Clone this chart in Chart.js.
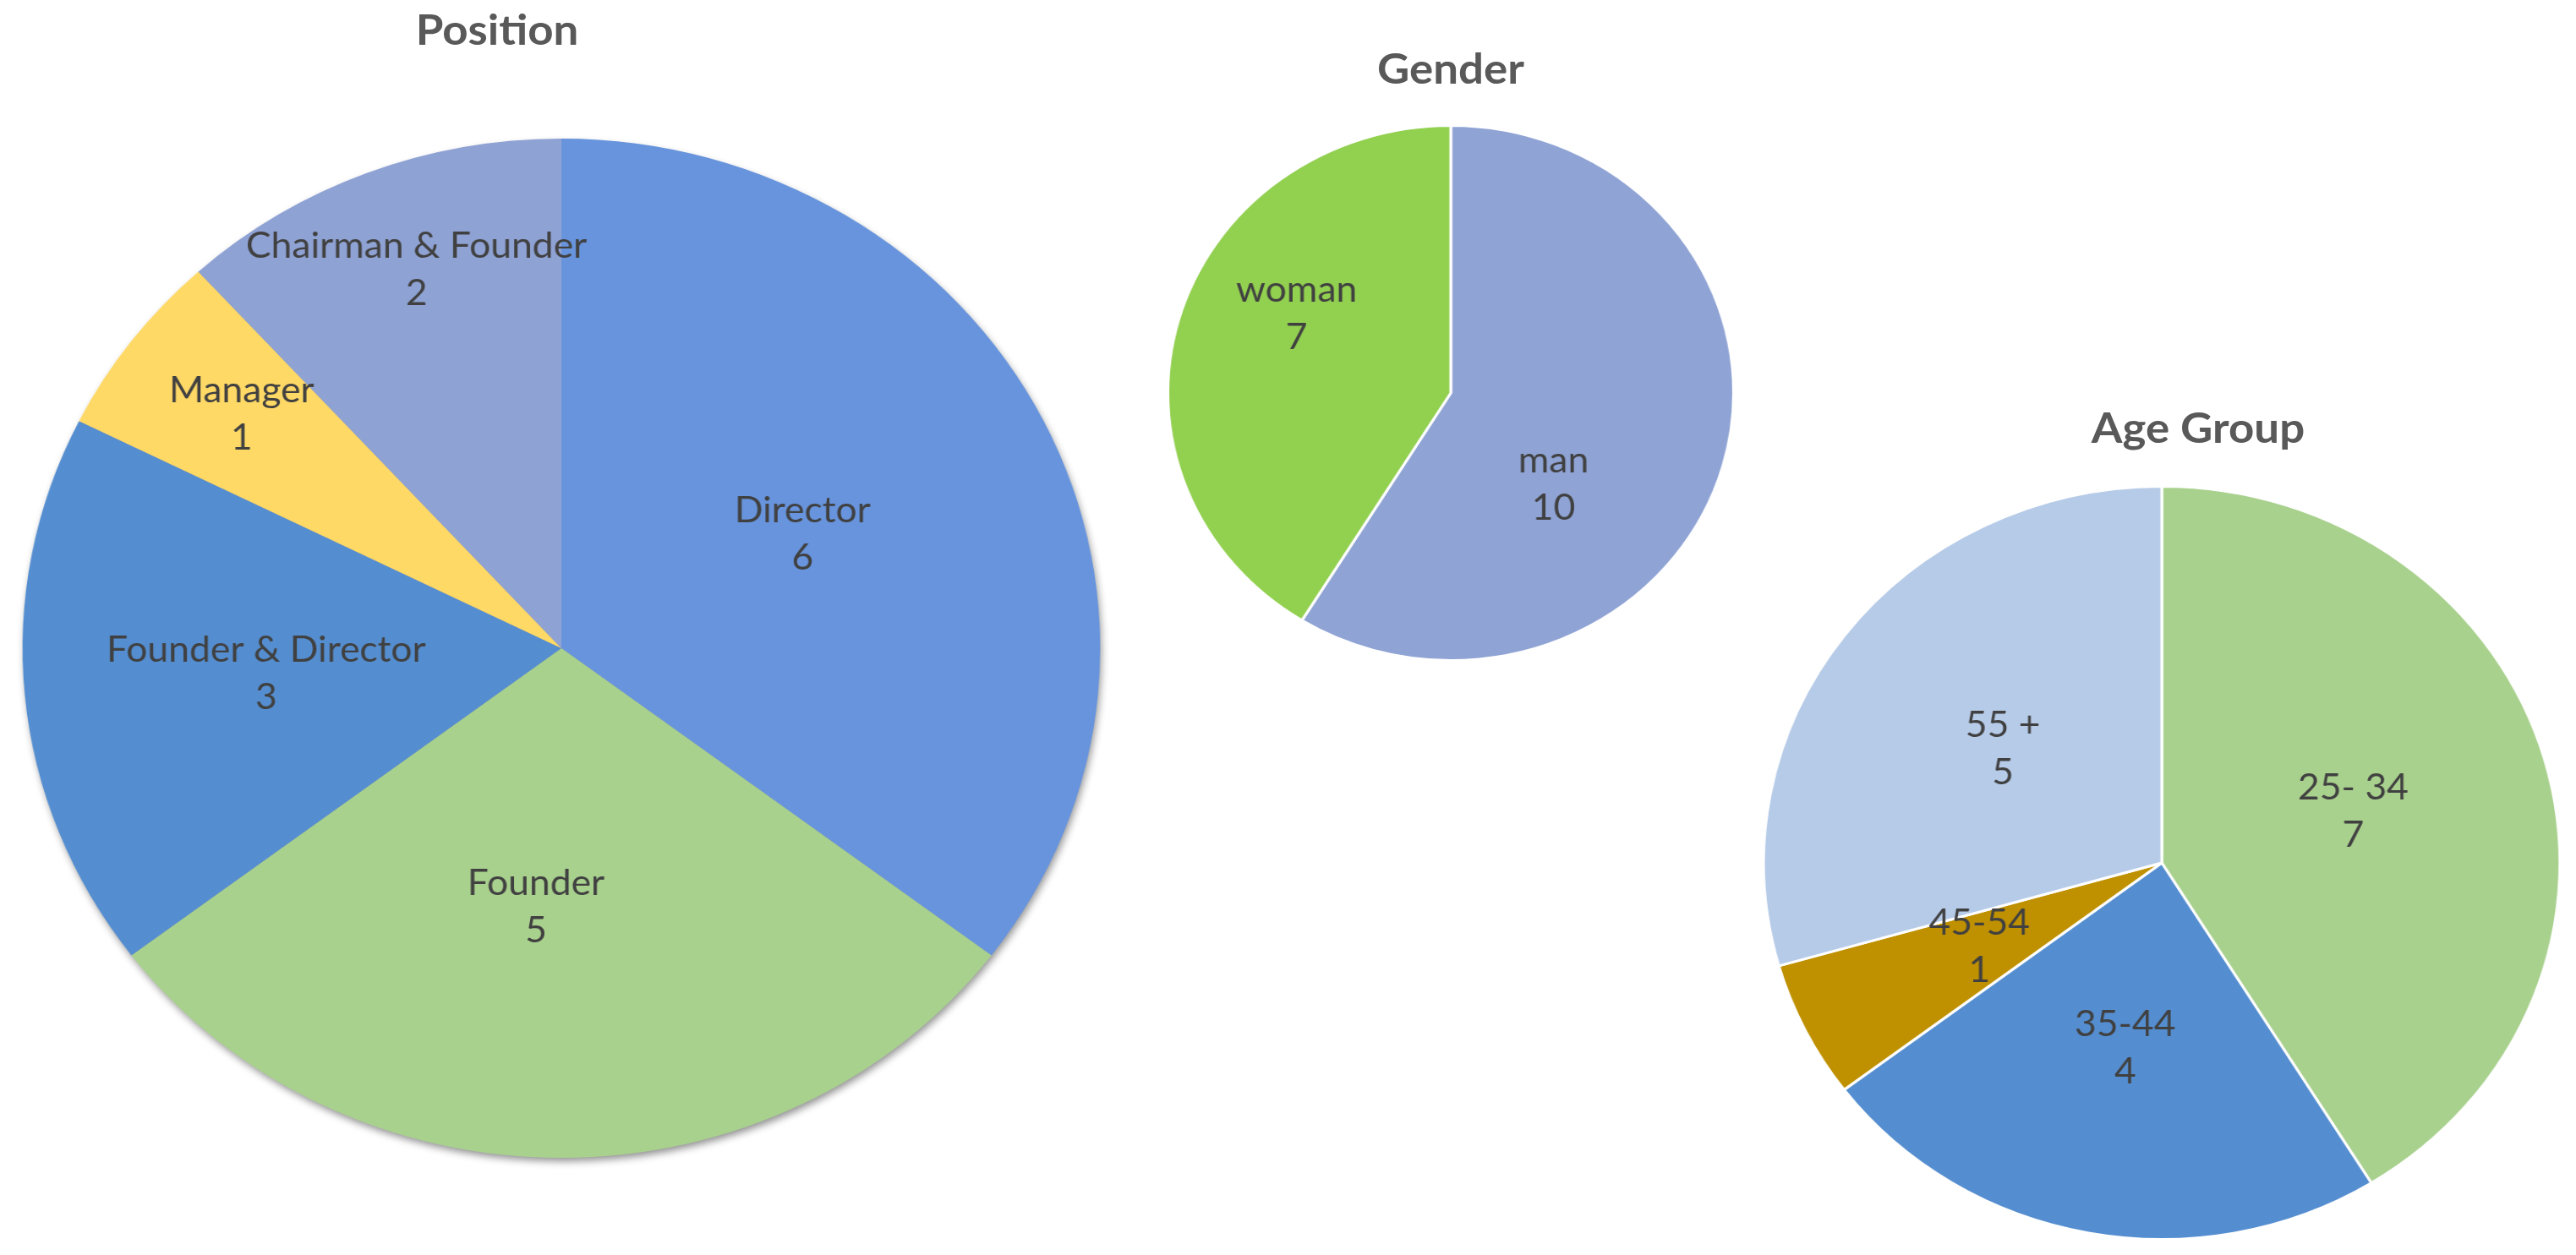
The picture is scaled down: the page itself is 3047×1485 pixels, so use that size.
<!DOCTYPE html>
<html>
<head>
<meta charset="utf-8">
<script src="https://cdn.jsdelivr.net/npm/chart.js@4.4.1/dist/chart.umd.min.js"></script>
<style>
  html, body { margin: 0; padding: 0; background: #fff; }
  body { width: 3047px; height: 1485px; position: relative; overflow: hidden; }
  .box { position: absolute; transform: scaleX(1.057); transform-origin: center; }
  .title {
    position: absolute; width: 600px; text-align: center;
    font-family: Lato, "Open Sans", sans-serif; font-weight: bold; font-size: 50px;
    line-height: 50px; color: #595959; transform: scaleX(1.057);
  }
</style>
</head>
<body>
<div class="title" style="left:288px; top:9px;">Position</div>
<div class="title" style="left:1416px; top:55px;">Gender</div>
<div class="title" style="left:2300px; top:480px;">Age Group</div>

<div class="box" style="left:41px; top:144px; width:1246px; height:1246px;"><canvas id="positionChart"></canvas></div>
<div class="box" style="left:1388px; top:137px; width:656px; height:656px;"><canvas id="genderChart"></canvas></div>
<div class="box" style="left:2100px; top:564px; width:914px; height:914px;"><canvas id="ageChart"></canvas></div>

<script>
// values
const positionLabels = ['Director', 'Founder', 'Founder & Director', 'Manager', 'Chairman & Founder'];
const positionValues = [6, 5, 3, 1, 2];

const genderLabels = ['man', 'woman'];
const genderValues = [10, 7];

const ageLabels = ['25- 34', '35-44', '45-54', '55 +'];
const ageValues = [7, 4, 1, 5];

// colours
const positionColors = ['#6794DC', '#A9D18E', '#558ED0', '#FFD966', '#8FA2D4'];
const genderColors = ['#8FA3D4', '#92D050'];
const ageColors = ['#A9D18E', '#558ED0', '#BF9000', '#B6CBE8'];

// draws "name / value" inside each slice
const sliceLabels = {
    id: 'sliceLabels',
    afterDatasetsDraw(chart, args, opts) {
        const ctx = chart.ctx;
        const meta = chart.getDatasetMeta(0);
        const values = chart.data.datasets[0].data;
        ctx.save();
        ctx.font = '42px Lato, "Open Sans", sans-serif';
        ctx.fillStyle = '#404040';
        ctx.textAlign = 'center';
        ctx.textBaseline = 'middle';
        meta.data.forEach((arc, i) => {
            const p = arc.getProps(['x', 'y', 'startAngle', 'endAngle', 'outerRadius'], true);
            const spot = (opts.spots && opts.spots[i]) || [0.5, 0.5];
            const a = p.startAngle + spot[0] * (p.endAngle - p.startAngle);
            const r = p.outerRadius * spot[1];
            const x = p.x + Math.cos(a) * r;
            const y = p.y + Math.sin(a) * r;
            ctx.fillText(chart.data.labels[i], x, y - 28);
            ctx.fillText(String(values[i]), x, y + 28);
        });
        ctx.restore();
    }
};

// soft drop shadow under the whole pie (only used on the big one)
const pieShadow = {
    id: 'pieShadow',
    beforeDatasetsDraw(chart, args, opts) {
        if (!opts.color) return;
        const arc = chart.getDatasetMeta(0).data[0];
        if (!arc) return;
        const ctx = chart.ctx;
        ctx.save();
        ctx.shadowColor = opts.color;
        ctx.shadowBlur = 10;
        ctx.shadowOffsetX = 2;
        ctx.shadowOffsetY = 5;
        ctx.fillStyle = '#9a9a9a';
        ctx.beginPath();
        ctx.arc(arc.x, arc.y, arc.outerRadius - 1, 0, Math.PI * 2);
        ctx.fill();
        ctx.restore();
    }
};

function makePie(id, labels, values, colors, border, pad, spots, shadow) {
    const ctx = document.getElementById(id).getContext('2d');
    return new Chart(ctx, {
        type: 'pie',
        data: {
            labels: labels,
            datasets: [{
                data: values,
                backgroundColor: colors,
                borderColor: '#ffffff',
                borderWidth: border
            }]
        },
        options: {
            responsive: true,
            maintainAspectRatio: false,
            animation: false,
            devicePixelRatio: 1,
            layout: { padding: pad },
            plugins: {
                legend: { display: false },
                tooltip: { enabled: false },
                sliceLabels: { spots: spots },
                pieShadow: { color: shadow }
            }
        },
        plugins: [pieShadow, sliceLabels]
    });
}

makePie('positionChart', positionLabels, positionValues, positionColors, 0, 20,
    [[0.5, 0.5], [0.55, 0.51], [0.5, 0.55], [0.53, 0.75], [0.53, 0.79]], 'rgba(0,0,0,0.45)');
makePie('genderChart', genderLabels, genderValues, genderColors, 3, 10,
    [[0.63, 0.5], [0.585, 0.62]], null);
makePie('ageChart', ageLabels, ageValues, ageColors, 3, 10,
    [[0.5, 0.5], [0.5, 0.5], [0.52, 0.51], [0.5, 0.5]], null);
</script>
</body>
</html>
